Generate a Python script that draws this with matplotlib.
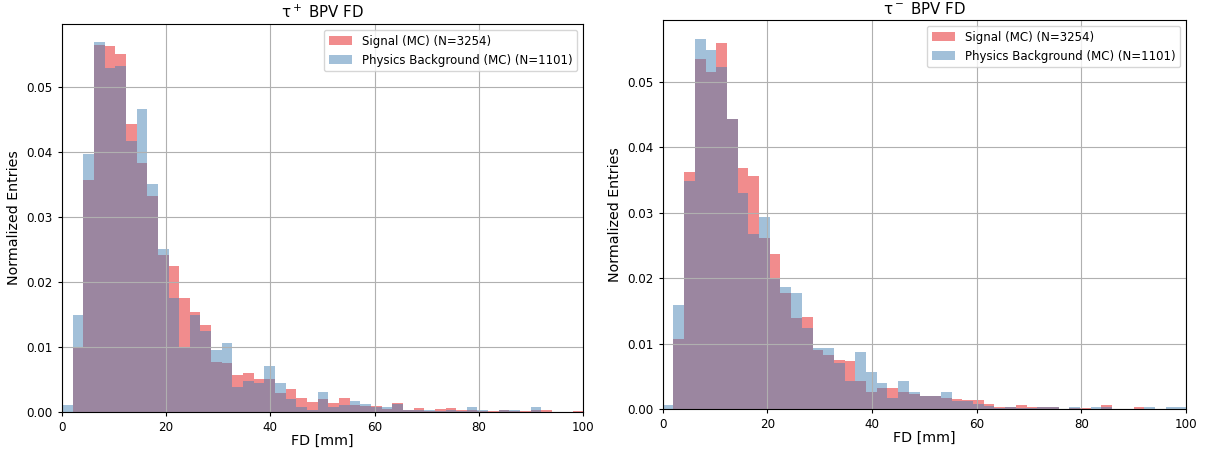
import numpy as np
import matplotlib
matplotlib.use("Agg")
import matplotlib.pyplot as plt

# 50 equal bins over the FD range, density-normalised contents per bin
N_BINS = 50
FD_MAX = 102.25

sig_plus = [0.0, 0.0098, 0.0356, 0.0564, 0.0562, 0.0550, 0.0443, 0.0382, 0.0332, 0.0242,
            0.0225, 0.0176, 0.0153, 0.0133, 0.0077, 0.0075, 0.0057, 0.0060, 0.0050, 0.0050,
            0.0029, 0.0035, 0.0021, 0.0016, 0.0020, 0.0014, 0.0021, 0.0011, 0.0010, 0.0009,
            0.0005, 0.0014, 0.0003, 0.0006, 0.0001, 0.0005, 0.0006, 0.0003, 0.0003, 0.0002,
            0.0002, 0.0003, 0.0001, 0.0001, 0.0003, 0.0003, 0.0, 0.0, 0.0001, 0.0]
bkg_plus = [0.0011, 0.0149, 0.0397, 0.0568, 0.0529, 0.0532, 0.0416, 0.0465, 0.0350, 0.0251,
            0.0176, 0.0100, 0.0149, 0.0124, 0.0096, 0.0106, 0.0039, 0.0048, 0.0045, 0.0071,
            0.0044, 0.0020, 0.0008, 0.0003, 0.0030, 0.0008, 0.0011, 0.0017, 0.0013, 0.0007,
            0.0007, 0.0013, 0.0003, 0.0003, 0.0003, 0.0002, 0.0003, 0.0002, 0.0007, 0.0003,
            0.0, 0.0003, 0.0003, 0.0, 0.0007, 0.0, 0.0, 0.0, 0.0, 0.0]

sig_minus = [0.0, 0.0107, 0.0363, 0.0535, 0.0515, 0.0559, 0.0443, 0.0368, 0.0356, 0.0261,
             0.0237, 0.0177, 0.0140, 0.0141, 0.0090, 0.0083, 0.0076, 0.0074, 0.0043, 0.0026,
             0.0032, 0.0032, 0.0027, 0.0024, 0.0021, 0.0020, 0.0017, 0.0015, 0.0014, 0.0014,
             0.0008, 0.0004, 0.0003, 0.0006, 0.0003, 0.0003, 0.0003, 0.0001, 0.0002, 0.0002,
             0.0001, 0.0006, 0.0, 0.0, 0.0003, 0.0, 0.0, 0.0, 0.0, 0.0]
bkg_minus = [0.0007, 0.0159, 0.0348, 0.0566, 0.0549, 0.0522, 0.0443, 0.0330, 0.0267, 0.0293,
             0.0199, 0.0186, 0.0177, 0.0124, 0.0093, 0.0093, 0.0071, 0.0043, 0.0088, 0.0057,
             0.0040, 0.0017, 0.0043, 0.0026, 0.0020, 0.0020, 0.0026, 0.0013, 0.0012, 0.0008,
             0.0005, 0.0002, 0.0003, 0.0002, 0.0002, 0.0003, 0.0003, 0.0, 0.0003, 0.0,
             0.0003, 0.0004, 0.0, 0.0, 0.0001, 0.0003, 0.0, 0.0003, 0.0003, 0.0]

N_SIG = 3254
N_BKG = 1101

SIG_COLOR = "#e41a1c"
BKG_COLOR = "steelblue"

edges = np.linspace(0, FD_MAX, N_BINS + 1)
centers = 0.5 * (edges[:-1] + edges[1:])

fig = plt.figure(figsize=(12.1, 4.58), dpi=100)
ax_plus = fig.add_axes([0.0512, 0.1004, 0.4306, 0.8472])
ax_minus = fig.add_axes([0.5477, 0.1063, 0.4325, 0.8500])


def draw_fd(ax, sig, bkg, title):
    ax.hist(centers, bins=edges, weights=sig, color=SIG_COLOR, alpha=0.5,
            label="Signal (MC) (N=%d)" % N_SIG)
    ax.hist(centers, bins=edges, weights=bkg, color=BKG_COLOR, alpha=0.5,
            label="Physics Background (MC) (N=%d)" % N_BKG)
    ax.set_xlim(0, 100)
    ax.set_title(title, fontsize=10.8, pad=4)
    ax.set_xlabel("FD [mm]", fontsize=10.3, labelpad=0)
    ax.set_ylabel("Normalized Entries", fontsize=10.3)
    ax.tick_params(labelsize=8.6, length=3)
    ax.grid(True)
    ax.legend(loc="upper right", fontsize=8.5)


draw_fd(ax_plus, sig_plus, bkg_plus, r"$\mathregular{\tau^+}$ BPV FD")
draw_fd(ax_minus, sig_minus, bkg_minus, r"$\mathregular{\tau^-}$ BPV FD")

fig.savefig("out.png", dpi=100)
